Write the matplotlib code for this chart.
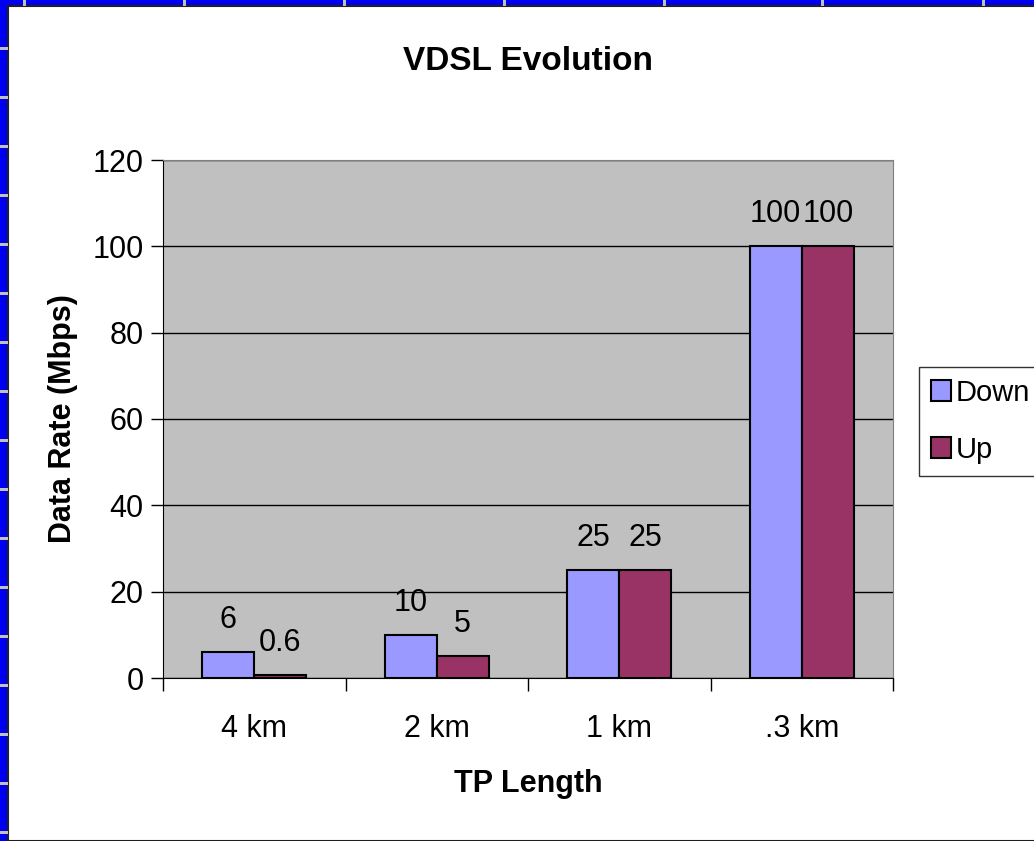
import matplotlib.pyplot as plt
from matplotlib.patches import Rectangle
import numpy as np

plt.rcParams['font.family'] = ['Liberation Sans', 'DejaVu Sans']

categories = ['4 km', '2 km', '1 km', '.3 km']
down_rates = [6, 10, 25, 100]
up_rates = [0.6, 5, 25, 100]
down_labels = ['6', '10', '25', '100']
up_labels = ['0.6', '5', '25', '100']
series_names = ['Down', 'Up']
y_ticks = [0, 20, 40, 60, 80, 100, 120]

DOWN_COLOR = '#9999FF'
UP_COLOR = '#993366'
PLOT_BG = '#C0C0C0'
FS = 22

fig = plt.figure(figsize=(10.34, 8.41), dpi=100)
fig.patch.set_facecolor('#0000F0')

# white sheet with a dark frame, like the spreadsheet window
fig.patches.append(Rectangle((8 / 1034, 0), 1, 1 - 6 / 841, transform=fig.transFigure,
                             facecolor='white', edgecolor='#202020', linewidth=1.5, zorder=-2))
# small gray ruler marks on the blue frame
for x in [23, 183, 343, 503, 663, 821, 982]:
    fig.patches.append(Rectangle((x / 1034, 1 - 6 / 841), 3 / 1034, 6 / 841,
                                 transform=fig.transFigure, facecolor='#C0C0C0',
                                 edgecolor='none', zorder=-1))
for y in np.arange(48, 841, 49):
    fig.patches.append(Rectangle((0, 1 - (y + 2) / 841), 8 / 1034, 3 / 841,
                                 transform=fig.transFigure, facecolor='#C0C0C0',
                                 edgecolor='none', zorder=-1))

ax = fig.add_axes([163 / 1034, 1 - 678 / 841, 730 / 1034, 518 / 841])
ax.set_facecolor(PLOT_BG)

x = np.arange(len(categories))
w = 0.285
b1 = ax.bar(x - w / 2, down_rates, w, color=DOWN_COLOR, edgecolor='black', linewidth=1.5,
            label=series_names[0], zorder=3)
b2 = ax.bar(x + w / 2, up_rates, w, color=UP_COLOR, edgecolor='black', linewidth=1.5,
            label=series_names[1], zorder=3)

for rect, lab in zip(b1, down_labels):
    ax.text(rect.get_x() + rect.get_width() / 2, rect.get_height() + 4, lab,
            ha='center', va='bottom', fontsize=FS)
for rect, lab in zip(b2, up_labels):
    ax.text(rect.get_x() + rect.get_width() / 2, rect.get_height() + 4, lab,
            ha='center', va='bottom', fontsize=FS)

ax.set_xlim(-0.5, len(categories) - 0.5)
ax.set_ylim(0, 120)
ax.set_yticks(y_ticks)
ax.yaxis.grid(True, color='black', linewidth=1)
ax.set_axisbelow(True)

ax.set_xticks(x)
ax.set_xticklabels(categories, fontsize=FS)
ax.set_xticks(np.arange(-0.5, len(categories)), minor=True)
ax.tick_params(axis='x', which='major', length=0, pad=26)
ax.tick_params(axis='x', which='minor', length=9, width=1, direction='out')
ax.tick_params(axis='y', labelsize=FS, length=9, width=1, direction='out', pad=5)

for side in ['top', 'right']:
    ax.spines[side].set_color('#808080')
ax.spines['left'].set_color('black')
ax.spines['bottom'].set_color('black')

ax.set_xlabel('TP Length', fontsize=FS, fontweight='bold', labelpad=18)
ax.set_ylabel('Data Rate (Mbps)', fontsize=FS, fontweight='bold', labelpad=10)
fig.text(528 / 1034, 1 - 62 / 841, 'VDSL Evolution', ha='center', va='center',
         fontsize=24, fontweight='bold')

leg = fig.legend(handles=[b1, b2], loc='upper left', bbox_to_anchor=(919 / 1034, 1 - 367 / 841),
                 fontsize=21, frameon=True, fancybox=False, edgecolor='black',
                 handlelength=0.7, handleheight=0.75, handletextpad=0.15, borderpad=0.4,
                 labelspacing=1.0, borderaxespad=0)
leg.get_frame().set_linewidth(1)

fig.savefig('out.png', dpi=100, facecolor=fig.get_facecolor())
